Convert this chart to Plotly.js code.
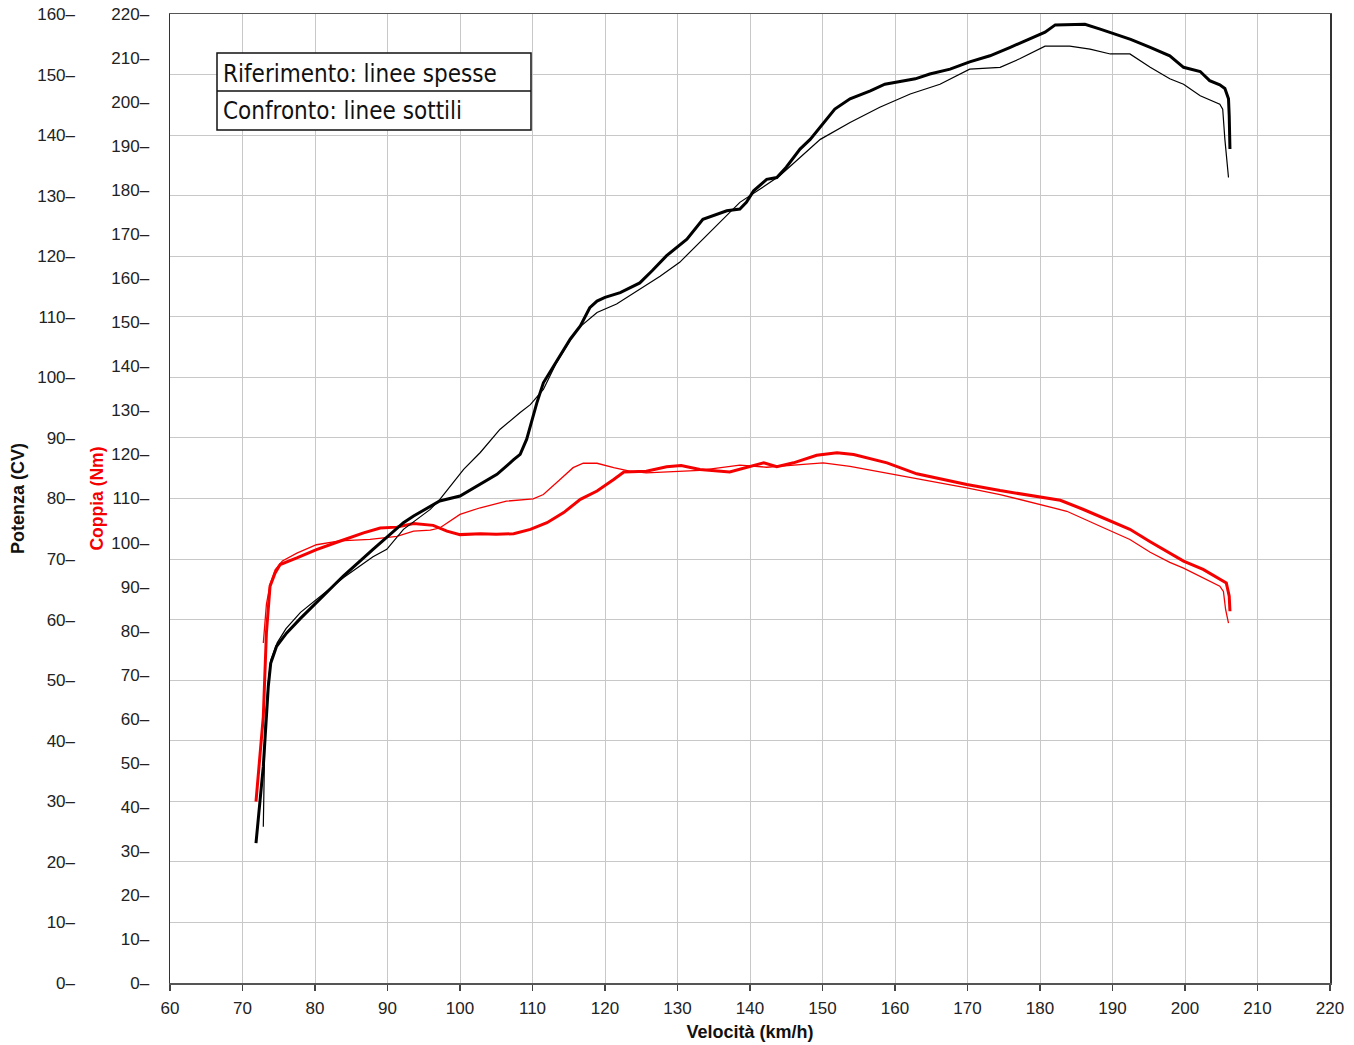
<!DOCTYPE html>
<html>
<head>
<meta charset="utf-8">
<script src="https://cdn.plot.ly/plotly-3.0.1.min.js"></script>
<style>html,body{margin:0;padding:0;background:#fff;}#chart{width:1354px;height:1045px;}</style>
</head>
<body>
<div id="chart"></div>
<script>
// ---- Data ----
const speedTicks = [60,70,80,90,100,110,120,130,140,150,160,170,180,190,200,210,220];
const torqueTicks = [0,10,20,30,40,50,60,70,80,90,100,110,120,130,140,150,160,170,180,190,200,210,220];
const powerTicks = [0,10,20,30,40,50,60,70,80,90,100,110,120,130,140,150,160];
const torqueTickText = torqueTicks.map(v => v + '–');
const powerTickText = powerTicks.map(v => v + '–');

// Reference (thick) power, CV
const refPowerSpeed = [71.86,72.4,72.87,73.56,73.89,74.7,76.1,78.0,80.2,83.9,88.0,90.0,92.2,93.6,95.9,97.2,100.0,102.8,105.1,107.4,108.3,109.2,109.7,110.6,111.5,112.9,115.2,116.6,117.9,118.9,120.0,122.1,124.8,126.5,128.5,131.3,133.5,136.8,138.6,139.5,140.5,142.3,143.7,145.0,146.9,148.3,149.7,151.7,153.8,156.6,158.6,160.7,162.8,164.8,167.6,170.3,173.1,175.9,178.6,180.7,182.1,184.1,186.2,188.3,190.3,192.5,195.2,197.9,199.8,202.1,203.4,204.8,205.5,206.0,206.1,206.2];
const refPower = [23.1,29.5,35.8,49.0,52.8,55.6,57.8,60.2,62.8,67.2,71.6,73.7,76.0,77.1,78.7,79.6,80.4,82.3,84.0,86.4,87.3,89.8,92.0,95.8,99.1,101.9,106.3,108.5,111.5,112.6,113.2,114.0,115.6,117.6,120.1,122.8,126.1,127.5,127.8,128.9,130.8,132.7,133.0,134.7,137.7,139.3,141.3,144.3,146.0,147.3,148.4,148.9,149.3,150.1,150.9,152.1,153.1,154.5,155.9,157.0,158.2,158.3,158.3,157.5,156.7,155.8,154.5,153.1,151.2,150.5,149.0,148.3,147.7,146.0,143.2,137.7];

// Comparison (thin) power, CV
const cmpPowerSpeed = [72.87,72.95,73.1,73.5,73.9,74.8,76.0,78.0,80.2,84.0,88.0,89.9,92.2,95.9,97.2,100.5,102.8,105.5,108.3,109.7,111.5,113.3,116.1,118.9,121.6,124.8,127.6,130.3,133.1,135.9,138.6,141.4,144.1,146.9,149.7,153.8,157.9,162.1,166.2,170.3,174.5,177.2,180.7,184.1,186.9,189.7,192.4,195.2,197.9,199.8,202.1,204.8,205.2,205.5,206.0];
const cmpPower = [25.8,33,42,49.0,53.3,56.2,58.5,61.2,63.3,67.0,70.4,71.6,74.9,78.2,79.8,84.8,87.6,91.4,94.2,95.5,98.0,102.4,107.9,110.7,112.1,114.5,116.7,119.0,122.3,125.6,128.9,131.1,133.3,136.3,139.3,142.1,144.6,146.8,148.4,150.9,151.2,152.6,154.7,154.7,154.2,153.4,153.4,151.2,149.3,148.4,146.5,145.1,144.3,139.3,133.0];

// Reference (thick) torque, Nm
const refTorqueSpeed = [71.86,72.87,73.3,73.8,74.5,75.2,77.5,80.2,83.4,86.7,89.0,91.3,93.6,96.3,98.2,100.0,102.8,105.0,107.4,109.7,112.0,114.3,116.6,118.9,121.2,122.6,125.7,128.5,130.5,133.1,137.2,140.0,141.9,143.7,146.0,149.2,152.0,154.3,158.9,163.0,169.9,174.5,179.1,182.8,186.0,189.7,192.4,195.2,197.9,199.8,202.5,204.4,205.7,206.1,206.2];
const refTorque = [41.2,60.5,79.5,90.1,93.1,95.0,96.5,98.4,100.3,102.2,103.3,103.5,104.3,103.9,102.6,101.8,102.0,101.9,102.0,103.0,104.5,106.8,109.8,111.7,114.3,116.0,116.2,117.2,117.5,116.6,116.0,117.3,118.1,117.2,118.1,119.8,120.4,120.0,118.1,115.6,113.2,111.8,110.5,109.6,107.5,104.8,103.0,100.2,97.7,95.8,93.9,92.0,90.8,87.8,84.4];

// Comparison (thin) torque, Nm
const cmpTorqueSpeed = [72.87,73.1,73.3,73.8,74.5,75.5,77.5,80.2,83.4,87.6,91.3,93.6,95.9,97.2,100.0,102.8,106.4,110.1,111.5,113.8,115.6,117.0,118.9,121.2,123.4,125.7,130.3,133.1,138.6,142.3,146.9,150.1,153.8,158.9,165.3,169.9,174.5,179.1,183.7,188.3,192.4,195.2,197.9,199.8,202.5,204.8,205.3,205.6,206.0];
const cmpTorque = [77.2,82,86,90.5,93.8,95.8,97.6,99.5,100.4,100.7,101.4,102.6,102.8,103.3,106.4,107.9,109.4,109.9,110.9,114.3,117.0,118.0,118.0,117.0,116.2,115.8,116.2,116.4,117.6,117.1,117.7,118.1,117.3,115.8,113.9,112.4,110.9,109.0,107.1,103.7,100.7,97.8,95.5,94.2,92.0,90.1,88.9,84.8,81.7];

const legendLines = ['Riferimento: linee spesse', 'Confronto: linee sottili'];

// ---- Layout geometry (pixels) ----
const W = 1354, H = 1045;
const PL = 170, PR = 1330, PT = 14, PB = 983;
const RED = '#f50000';
const tickFont = {family: 'Liberation Sans, Arial, sans-serif', size: 17, color: '#222'};
const titleFontFam = 'Liberation Sans, Arial, sans-serif';

const traces = [
  {x: cmpPowerSpeed, y: cmpPower, yaxis: 'y2', mode: 'lines', line: {color: '#000', width: 1.2}, hoverinfo: 'skip'},
  {x: cmpTorqueSpeed, y: cmpTorque, yaxis: 'y', mode: 'lines', line: {color: RED, width: 1.3}, hoverinfo: 'skip'},
  {x: refPowerSpeed, y: refPower, yaxis: 'y2', mode: 'lines', line: {color: '#000', width: 3}, hoverinfo: 'skip'},
  {x: refTorqueSpeed, y: refTorque, yaxis: 'y', mode: 'lines', line: {color: RED, width: 3}, hoverinfo: 'skip'}
];

const px = v => v / W;
const py = v => 1 - v / H;

const layout = {
  width: W, height: H,
  margin: {l: 0, r: 0, t: 0, b: 0, pad: 0},
  paper_bgcolor: '#fff', plot_bgcolor: '#fff',
  showlegend: false,
  xaxis: {
    domain: [px(PL), px(PR)], range: [60, 220], tickvals: speedTicks,
    ticks: 'outside', ticklen: 6, tickwidth: 1.5, tickcolor: '#444', ticklabelstandoff: 3,
    showline: true, linecolor: '#555', linewidth: 1.5, mirror: true,
    showgrid: true, gridcolor: '#c8c8c8', gridwidth: 1, zeroline: false,
    tickfont: tickFont,
    title: {text: '<b>Velocità (km/h)</b>', font: {family: titleFontFam, size: 18, color: '#111'}, standoff: 8}
  },
  yaxis: {
    domain: [1 - PB / H, 1 - PT / H], range: [0, 220], tickvals: torqueTicks, ticktext: torqueTickText,
    ticks: '', ticklabelstandoff: 16,
    showline: true, linecolor: '#333', linewidth: 1.5, mirror: true,
    showgrid: false, zeroline: false, tickfont: tickFont,
    title: {text: '<b>Coppia (Nm)</b>', font: {family: titleFontFam, size: 17.5, color: RED}, standoff: 3}
  },
  yaxis2: {
    overlaying: 'y', anchor: 'free', side: 'left', position: px(75),
    range: [0, 160], tickvals: powerTicks, ticktext: powerTickText, ticks: '',
    showline: false, showgrid: true, gridcolor: '#c8c8c8', gridwidth: 1, zeroline: false,
    tickfont: tickFont,
    title: {text: '<b>Potenza (CV)</b>', font: {family: titleFontFam, size: 18, color: '#111'}, standoff: 6}
  },
  shapes: [
    {type: 'rect', xref: 'paper', yref: 'paper', x0: px(217), x1: px(531), y0: py(130), y1: py(53),
     line: {color: '#111', width: 1.5}, fillcolor: '#fff', layer: 'above'},
    {type: 'line', xref: 'paper', yref: 'paper', x0: px(217), x1: px(531), y0: py(91), y1: py(91),
     line: {color: '#111', width: 1.5}, layer: 'above'}
  ],
  annotations: [
    {xref: 'paper', yref: 'paper', x: px(221), y: py(74), xanchor: 'left', yanchor: 'middle', showarrow: false,
     text: legendLines[0], font: {family: 'DejaVu Sans Condensed, DejaVu Sans, sans-serif', size: 24, color: '#111'}},
    {xref: 'paper', yref: 'paper', x: px(221), y: py(111), xanchor: 'left', yanchor: 'middle', showarrow: false,
     text: legendLines[1], font: {family: 'DejaVu Sans Condensed, DejaVu Sans, sans-serif', size: 24, color: '#111'}}
  ]
};

Plotly.newPlot('chart', traces, layout, {displayModeBar: false, staticPlot: true});
</script>
</body>
</html>
